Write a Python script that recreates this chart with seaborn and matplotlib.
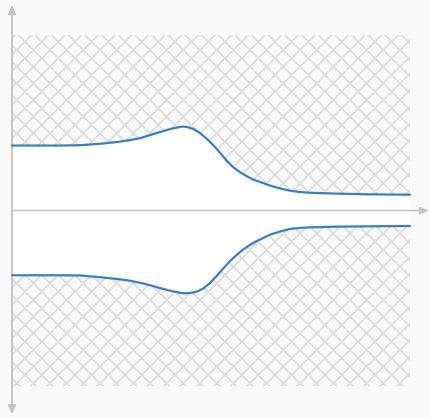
import matplotlib
matplotlib.use("Agg")
import matplotlib.pyplot as plt
import numpy as np
import pandas as pd
import seaborn as sns

# Boundary curves of the allowed band (x along the horizontal axis, y signed)
x_upper = [0.00, 0.70, 1.20, 1.71, 2.21, 2.71, 2.96, 3.22, 3.47, 3.72, 3.97,
           4.22, 4.30, 4.39, 4.56, 4.72, 4.89, 5.06, 5.23, 5.39, 5.56, 5.73,
           5.90, 6.06, 6.23, 6.48, 6.73, 6.98, 7.24, 7.49, 8.17, 9.00, 10.00]
y_upper = [3.70, 3.70, 3.70, 3.72, 3.80, 3.92, 4.01, 4.12, 4.30, 4.47, 4.64,
           4.76, 4.78, 4.76, 4.64, 4.42, 4.09, 3.72, 3.28, 2.84, 2.46, 2.18,
           1.95, 1.76, 1.63, 1.42, 1.26, 1.13, 1.05, 1.01, 0.96, 0.92, 0.90]

x_lower = [0.00, 0.70, 1.20, 1.71, 2.21, 2.71, 2.96, 3.22, 3.47, 3.72, 3.97,
           4.22, 4.35, 4.48, 4.65, 4.80, 4.97, 5.14, 5.30, 5.47, 5.64, 5.81,
           5.98, 6.14, 6.31, 6.48, 6.73, 6.98, 7.24, 7.49, 8.17, 9.00, 10.00]
y_lower = [-3.69, -3.69, -3.69, -3.70, -3.80, -3.92, -4.00, -4.12, -4.26,
           -4.42, -4.57, -4.69, -4.72, -4.70, -4.62, -4.45, -4.14, -3.74,
           -3.32, -2.90, -2.54, -2.22, -1.96, -1.75, -1.57, -1.38, -1.20,
           -1.05, -0.99, -0.96, -0.92, -0.90, -0.88]

# Extent of the shaded (forbidden) region
region_x = [0.0, 10.0]
region_y = [-10.0, 10.0]

BG = "#f9f9f9"
HATCH = "#dedede"
LINE = "#3b7fc1"
AXIS = "#c4c4c4"

sns.set_style("white")
plt.rcParams["hatch.linewidth"] = 1.3
plt.rcParams["hatch.color"] = HATCH

fig = plt.figure(figsize=(4.31, 4.18), dpi=100, facecolor=BG)
ax = fig.add_axes([0, 0, 1, 1])
ax.set_facecolor(BG)
for s in ax.spines.values():
    s.set_visible(False)
ax.set_xticks([])
ax.set_yticks([])
ax.set_xlim(-0.3015, 10.528)
ax.set_ylim(-11.823, 11.994)

# Hatched area above the upper curve and below the lower curve
xu = np.array(x_upper)
xl = np.array(x_lower)
ax.fill_between(xu, y_upper, region_y[1], facecolor=BG, edgecolor=HATCH,
                hatch="xx", linewidth=0, zorder=1)
ax.fill_between(xl, region_y[0], y_lower, facecolor=BG, edgecolor=HATCH,
                hatch="xx", linewidth=0, zorder=1)

# White band between the curves
band_x = np.union1d(xu, xl)
ax.fill_between(band_x, np.interp(band_x, xl, y_lower),
                np.interp(band_x, xu, y_upper), color="white", linewidth=0,
                zorder=2)

# Axes with arrowheads
ax.annotate("", xy=(10.47, 0), xytext=(0, 0),
            arrowprops=dict(arrowstyle="-|>,head_length=0.5,head_width=0.22",
                            color=AXIS, lw=1.2, shrinkA=0, shrinkB=0),
            zorder=3)
ax.annotate("", xy=(0, 11.72), xytext=(0, -11.62),
            arrowprops=dict(arrowstyle="<|-|>,head_length=0.5,head_width=0.22",
                            color=AXIS, lw=1.4, shrinkA=0, shrinkB=0),
            zorder=3)

# Boundary curves
df_u = pd.DataFrame({"x": x_upper, "y": y_upper})
df_l = pd.DataFrame({"x": x_lower, "y": y_lower})
sns.lineplot(data=df_u, x="x", y="y", ax=ax, color=LINE, linewidth=1.6,
             sort=False, estimator=None, zorder=4)
sns.lineplot(data=df_l, x="x", y="y", ax=ax, color=LINE, linewidth=1.6,
             sort=False, estimator=None, zorder=4)
ax.set_xlabel("")
ax.set_ylabel("")

fig.savefig("out.png", dpi=100, facecolor=BG)
